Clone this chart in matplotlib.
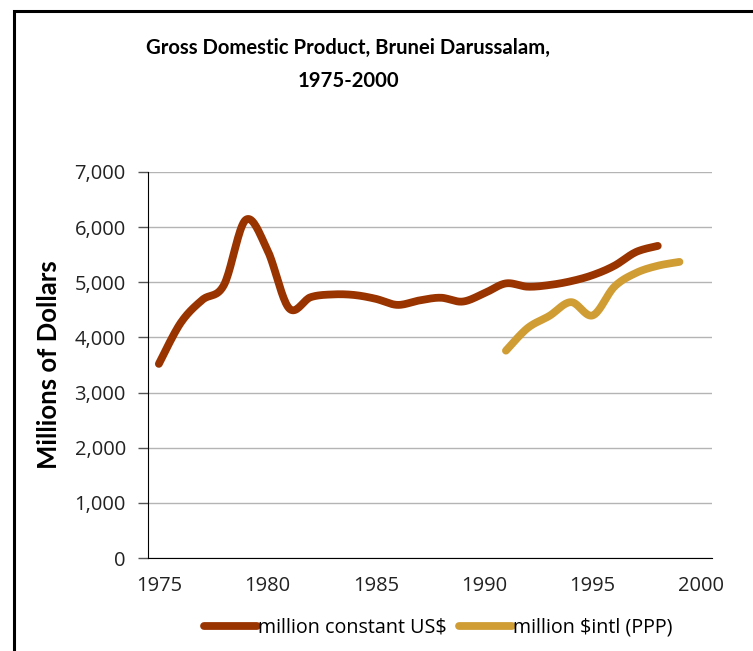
import numpy as np
import matplotlib
matplotlib.use("Agg")
import matplotlib.pyplot as plt
from matplotlib.patches import Rectangle
from matplotlib.ticker import FuncFormatter

# Data (millions of dollars)
years_usd = list(range(1975, 1999))
gdp_usd = [3520, 4260, 4680, 4950, 6130, 5590, 4530, 4730, 4780, 4770,
           4700, 4590, 4670, 4720, 4650, 4800, 4980, 4920, 4950, 5020,
           5130, 5300, 5550, 5660]
years_ppp = list(range(1991, 2000))
gdp_ppp = [3760, 4170, 4390, 4640, 4400, 4920, 5170, 5300, 5370]

xticks = [1975, 1980, 1985, 1990, 1995, 2000]
yticks = [0, 1000, 2000, 3000, 4000, 5000, 6000, 7000]

BROWN = '#993300'
GOLD = '#D09D35'
FONT = 'Open Sans'
TITLE_FONT = 'Lato'


def smooth(x, y, steps=20):
    """Excel style smoothed line (Catmull-Rom bezier through the points)."""
    p = np.column_stack([x, y]).astype(float)
    p = np.vstack([p[0], p, p[-1]])
    out = []
    t = np.linspace(0, 1, steps, endpoint=False)[:, None]
    for i in range(1, len(p) - 2):
        p0, p1, p2, p3 = p[i - 1], p[i], p[i + 1], p[i + 2]
        c1 = p1 + (p2 - p0) / 6
        c2 = p2 - (p3 - p1) / 6
        seg = ((1 - t) ** 3) * p1 + 3 * ((1 - t) ** 2) * t * c1 \
            + 3 * (1 - t) * t ** 2 * c2 + t ** 3 * p2
        out.append(seg)
    out.append(p[-2][None, :])
    out = np.vstack(out)
    return out[:, 0], out[:, 1]


plt.rcParams['font.family'] = [FONT, 'DejaVu Sans']

fig = plt.figure(figsize=(7.53, 6.51), dpi=100)
ax = fig.add_axes([148 / 753, 1 - 558 / 651, (712 - 148) / 753, (558 - 172) / 651])

# chart border (runs off the right and bottom of the image)
fig.patches.append(Rectangle((14 / 753, -0.1), 1.2, 1 - 11 / 651 + 0.1,
                             transform=fig.transFigure, fill=False,
                             edgecolor='black', linewidth=2.2))

xs, ys = smooth(years_usd, gdp_usd)
ax.plot(xs, ys, color=BROWN, linewidth=5.6, solid_capstyle='round',
        label='million constant US$', zorder=3)
xs, ys = smooth(years_ppp, gdp_ppp)
ax.plot(xs, ys, color=GOLD, linewidth=5.6, solid_capstyle='round',
        label='million $intl (PPP)', zorder=3)

ax.set_xlim(1974.5, 2000.5)
ax.set_ylim(0, 7000)
ax.set_xticks(xticks)
ax.set_yticks(yticks)
ax.yaxis.set_major_formatter(FuncFormatter(lambda v, _: f"{int(v):,}"))
ax.tick_params(axis='x', length=0, pad=13, labelsize=14.5, labelcolor='#222222')
ax.tick_params(axis='y', length=7, width=1, pad=9, labelsize=14.5,
               labelcolor='#222222', color='#555555')

ax.grid(axis='y', color='#B4B4B4', linewidth=1)
ax.set_axisbelow(True)
for side in ['top', 'right']:
    ax.spines[side].set_visible(False)
ax.spines['left'].set_color('black')
ax.spines['bottom'].set_color('black')

ax.set_ylabel('Millions of Dollars', family=[TITLE_FONT, 'DejaVu Sans'],
              fontsize=18.5, fontweight='bold', labelpad=10)
fig.text(348 / 753, 1 - 48 / 651, 'Gross Domestic Product, Brunei Darussalam,',
         ha='center', va='center', fontsize=14.6, fontweight='bold',
         family=[TITLE_FONT, 'DejaVu Sans'])
fig.text(348 / 753, 1 - 81 / 651, '1975-2000',
         ha='center', va='center', fontsize=14.6, fontweight='bold',
         family=[TITLE_FONT, 'DejaVu Sans'])

ax.legend(loc='center', bbox_to_anchor=(438 / 753, 1 - 628 / 651),
          bbox_transform=fig.transFigure, ncol=2, frameon=False,
          fontsize=14.2, handlelength=2.7, handletextpad=0.05, columnspacing=0.6)

fig.savefig('out.png', dpi=100)
